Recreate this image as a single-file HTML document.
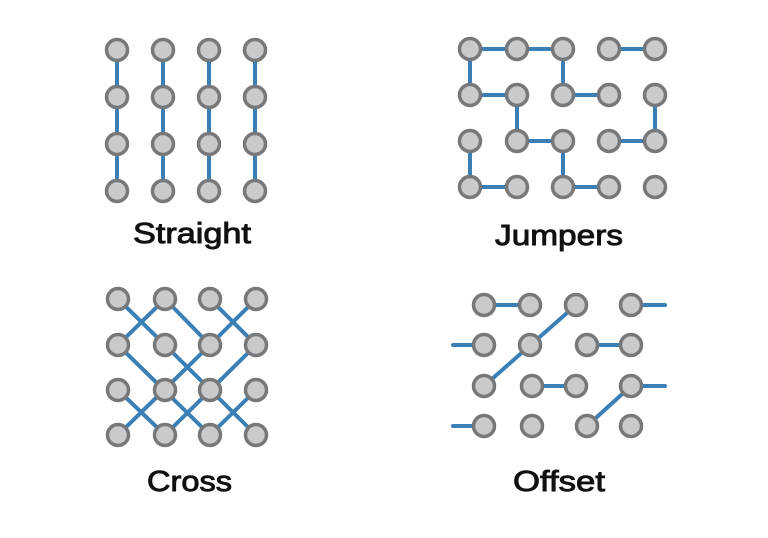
<!DOCTYPE html>
<html><head><style>html,body{margin:0;padding:0;background:#fff;}svg{display:block}</style></head>
<body>
<svg width="768" height="538" viewBox="0 0 768 538" xmlns="http://www.w3.org/2000/svg">
<g stroke="#3a7fb5" stroke-width="4" stroke-linecap="round" fill="none">
<line x1="117" y1="50" x2="117" y2="191"/><line x1="163" y1="50" x2="163" y2="191"/>
<line x1="209" y1="50" x2="209" y2="191"/><line x1="255" y1="50" x2="255" y2="191"/>
<line x1="470" y1="49" x2="563" y2="49"/><line x1="609" y1="49" x2="655" y2="49"/>
<line x1="470" y1="49" x2="470" y2="95"/><line x1="563" y1="49" x2="563" y2="95"/>
<line x1="470" y1="95" x2="517" y2="95"/><line x1="563" y1="95" x2="609" y2="95"/>
<line x1="517" y1="95" x2="517" y2="141"/><line x1="655" y1="95" x2="655" y2="141"/>
<line x1="517" y1="141" x2="563" y2="141"/><line x1="609" y1="141" x2="655" y2="141"/>
<line x1="470" y1="141" x2="470" y2="187"/><line x1="563" y1="141" x2="563" y2="187"/>
<line x1="470" y1="187" x2="517" y2="187"/><line x1="563" y1="187" x2="609" y2="187"/>
<line x1="118" y1="299" x2="165" y2="345"/><line x1="165" y1="299" x2="118" y2="345"/>
<line x1="165" y1="299" x2="210" y2="345"/><line x1="210" y1="299" x2="256" y2="345"/>
<line x1="256" y1="299" x2="210" y2="345"/>
<line x1="118" y1="345" x2="210" y2="435"/><line x1="165" y1="345" x2="256" y2="435"/>
<line x1="256" y1="345" x2="165" y2="435"/><line x1="210" y1="345" x2="118" y2="435"/>
<line x1="118" y1="390" x2="165" y2="435"/><line x1="256" y1="390" x2="210" y2="435"/>
<line x1="484" y1="305" x2="530" y2="305"/><line x1="631" y1="305" x2="665" y2="305"/>
<line x1="453" y1="345" x2="484" y2="345"/><line x1="484" y1="386" x2="576" y2="305"/>
<line x1="587" y1="345" x2="631" y2="345"/>
<line x1="532" y1="386" x2="576" y2="386"/><line x1="631" y1="386" x2="665" y2="386"/>
<line x1="453" y1="426" x2="484" y2="426"/><line x1="587" y1="426" x2="631" y2="386"/>
</g>
<g fill="#c9cacd" stroke="#767879" stroke-width="3.5">
<circle cx="117" cy="50" r="10.5"/><circle cx="163" cy="50" r="10.5"/><circle cx="209" cy="50" r="10.5"/><circle cx="255" cy="50" r="10.5"/>
<circle cx="117" cy="97" r="10.5"/><circle cx="163" cy="97" r="10.5"/><circle cx="209" cy="97" r="10.5"/><circle cx="255" cy="97" r="10.5"/>
<circle cx="117" cy="144" r="10.5"/><circle cx="163" cy="144" r="10.5"/><circle cx="209" cy="144" r="10.5"/><circle cx="255" cy="144" r="10.5"/>
<circle cx="117" cy="191" r="10.5"/><circle cx="163" cy="191" r="10.5"/><circle cx="209" cy="191" r="10.5"/><circle cx="255" cy="191" r="10.5"/>
<circle cx="470" cy="49" r="10.5"/><circle cx="517" cy="49" r="10.5"/><circle cx="563" cy="49" r="10.5"/><circle cx="609" cy="49" r="10.5"/><circle cx="655" cy="49" r="10.5"/>
<circle cx="470" cy="95" r="10.5"/><circle cx="517" cy="95" r="10.5"/><circle cx="563" cy="95" r="10.5"/><circle cx="609" cy="95" r="10.5"/><circle cx="655" cy="95" r="10.5"/>
<circle cx="470" cy="141" r="10.5"/><circle cx="517" cy="141" r="10.5"/><circle cx="563" cy="141" r="10.5"/><circle cx="609" cy="141" r="10.5"/><circle cx="655" cy="141" r="10.5"/>
<circle cx="470" cy="187" r="10.5"/><circle cx="517" cy="187" r="10.5"/><circle cx="563" cy="187" r="10.5"/><circle cx="609" cy="187" r="10.5"/><circle cx="655" cy="187" r="10.5"/>
<circle cx="118" cy="299" r="10.5"/><circle cx="165" cy="299" r="10.5"/><circle cx="210" cy="299" r="10.5"/><circle cx="256" cy="299" r="10.5"/>
<circle cx="118" cy="345" r="10.5"/><circle cx="165" cy="345" r="10.5"/><circle cx="210" cy="345" r="10.5"/><circle cx="256" cy="345" r="10.5"/>
<circle cx="118" cy="390" r="10.5"/><circle cx="165" cy="390" r="10.5"/><circle cx="210" cy="390" r="10.5"/><circle cx="256" cy="390" r="10.5"/>
<circle cx="118" cy="435" r="10.5"/><circle cx="165" cy="435" r="10.5"/><circle cx="210" cy="435" r="10.5"/><circle cx="256" cy="435" r="10.5"/>
<circle cx="484" cy="305" r="10.5"/><circle cx="530" cy="305" r="10.5"/><circle cx="576" cy="305" r="10.5"/><circle cx="631" cy="305" r="10.5"/>
<circle cx="484" cy="345" r="10.5"/><circle cx="530" cy="345" r="10.5"/><circle cx="587" cy="345" r="10.5"/><circle cx="631" cy="345" r="10.5"/>
<circle cx="484" cy="386" r="10.5"/><circle cx="532" cy="386" r="10.5"/><circle cx="576" cy="386" r="10.5"/><circle cx="631" cy="386" r="10.5"/>
<circle cx="484" cy="426" r="10.5"/><circle cx="532" cy="426" r="10.5"/><circle cx="587" cy="426" r="10.5"/><circle cx="631" cy="426" r="10.5"/>
</g>
<g font-family="Liberation Sans, sans-serif" font-size="29" fill="#111" stroke="#111" stroke-width="0.9">
<text x="133" y="243" textLength="118" lengthAdjust="spacingAndGlyphs">Straight</text>
<text x="495" y="245" textLength="128" lengthAdjust="spacingAndGlyphs">Jumpers</text>
<text x="147" y="491" textLength="85" lengthAdjust="spacingAndGlyphs">Cross</text>
<text x="513" y="491" textLength="92" lengthAdjust="spacingAndGlyphs">Offset</text>
</g>
</svg>
</body></html>
